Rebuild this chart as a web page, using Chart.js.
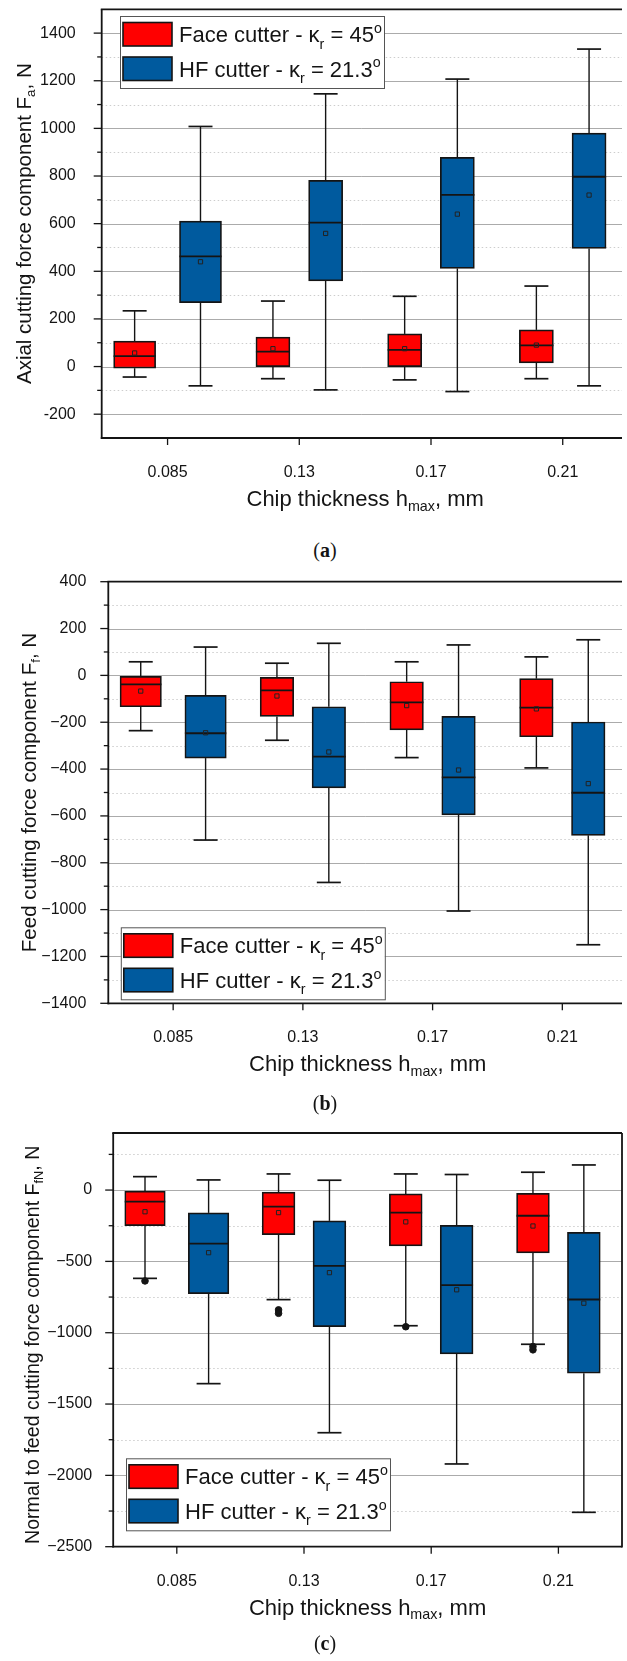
<!DOCTYPE html>
<html>
<head>
<meta charset="utf-8">
<script src="https://cdn.jsdelivr.net/npm/chart.js@4.4.1/dist/chart.umd.min.js"></script>
<style>
  html, body { margin: 0; padding: 0; background: #fff; overflow: hidden; }
  body { width: 627px; height: 1661px; position: relative; }
  .panel { position: absolute; left: 0; width: 627px; }
  .cap { position: absolute; left: 0; width: 650px; text-align: center; font: 20px "Liberation Serif", "DejaVu Serif", serif; color: #141414; line-height: 22px; }
</style>
</head>
<body>
<div class="panel" style="top:0;height:525px"><canvas id="chartAxial"></canvas></div>
<div class="cap" style="top:539px">(<b>a</b>)</div>
<div class="panel" style="top:570px;height:525px"><canvas id="chartFeed"></canvas></div>
<div class="cap" style="top:1092px">(<b>b</b>)</div>
<div class="panel" style="top:1120px;height:515px"><canvas id="chartNormal"></canvas></div>
<div class="cap" style="top:1632px">(<b>c</b>)</div>
<script>
const categories = ['0.085', '0.13', '0.17', '0.21'];

// each row: [min, Q1, median, Q3, max, mean]
const faceAxial = [
  [-44, -7, 44, 107, 234, 57],
  [-51, 0, 63, 124, 275, 75],
  [-56, 0, 70, 137, 295, 75],
  [-51, 15, 89, 154, 338, 90],
];
const hfAxial = [
  [-81, 268, 463, 611, 1008, 440],
  [-98, 360, 604, 782, 1145, 559],
  [-105, 412, 721, 878, 1207, 640],
  [-81, 496, 797, 980, 1333, 720],
];
const faceFeed = [
  [-236, -134, -38, -4, 58, -67],
  [-277, -175, -64, -8, 52, -88],
  [-351, -233, -115, -27, 58, -129],
  [-395, -262, -138, -14, 79, -143],
];
const hfFeed = [
  [-703, -353, -247, -85, 121, -245],
  [-884, -480, -347, -134, 137, -327],
  [-1006, -596, -435, -175, 130, -404],
  [-1150, -683, -501, -199, 152, -462],
];
const faceNormal = [
  [-619, -250, -81, -8, 94, -152],
  [-768, -312, -116, -15, 113, -158],
  [-951, -391, -158, -27, 113, -223],
  [-1081, -441, -180, -23, 125, -252],
];
const hfNormal = [
  [-1357, -726, -376, -160, 71, -439],
  [-1701, -958, -532, -216, 69, -579],
  [-1920, -1149, -666, -247, 109, -699],
  [-2259, -1284, -767, -296, 176, -793],
];
const faceNormalOutliers = [[-637], [-840, -864], [-958], [-1097, -1120]];

const axialTicks = [-200, 0, 200, 400, 600, 800, 1000, 1200, 1400];
const feedTicks = [-1400, -1200, -1000, -800, -600, -400, -200, 0, 200, 400];
const normalTicks = [-2500, -2000, -1500, -1000, -500, 0];

const RED = '#ff0000';
const BLUE = '#005a9e';
const INK = '#141414';
const FONT = '"Liberation Sans", Arial, sans-serif';

// box centre on the x axis: red left of the tick, blue right of it
function boxX(i, side) {
  return i + 1 + side * (i === 0 ? 0.25 : 0.2);
}

function fontFor(size) { return size + 'px ' + FONT; }

function richWidth(ctx, parts, size) {
  let w = 0;
  parts.forEach(p => {
    const sub = Array.isArray(p);
    ctx.font = fontFor(sub ? size * 0.65 : size);
    w += ctx.measureText(sub ? p[0] : p).width;
  });
  return w;
}

function drawRich(ctx, parts, x, y, size) {
  let cx = x;
  parts.forEach(p => {
    const sub = Array.isArray(p);
    const text = sub ? p[0] : p;
    let dy = 0;
    if (sub) dy = p[1] === 'sub' ? size * 0.3 : -size * 0.42;
    ctx.font = fontFor(sub ? size * 0.65 : size);
    ctx.fillText(text, cx, y + dy);
    cx += ctx.measureText(text).width;
  });
}

function hline(ctx, x1, x2, y) {
  ctx.beginPath(); ctx.moveTo(x1, y); ctx.lineTo(x2, y); ctx.stroke();
}
function vline(ctx, x, y1, y2) {
  ctx.beginPath(); ctx.moveTo(x, y1); ctx.lineTo(x, y2); ctx.stroke();
}

const boxPlot = {
  id: 'boxPlot',
  beforeDatasetsDraw(chart, args, o) {
    const { ctx, chartArea: a, scales: { x, y } } = chart;
    ctx.save();
    // grid
    ctx.lineWidth = 1;
    ctx.strokeStyle = '#ababab';
    o.ticks.forEach(v => {
      if (v <= o.yMin || v >= o.yMax) return;
      hline(ctx, a.left, a.right, Math.round(y.getPixelForValue(v)) + 0.5);
    });
    ctx.strokeStyle = '#cdcdcd';
    ctx.setLineDash([1.5, 2.5]);
    o.minors.forEach(v => hline(ctx, a.left, a.right, Math.round(y.getPixelForValue(v)) + 0.5));
    ctx.setLineDash([]);
    // whiskers
    ctx.strokeStyle = INK;
    [[o.face, -1], [o.hf, 1]].forEach(([rows, side]) => {
      rows.forEach((r, i) => {
        const px = x.getPixelForValue(boxX(i, side));
        ctx.lineWidth = 1.4;
        vline(ctx, px, y.getPixelForValue(r[0]), y.getPixelForValue(r[1]));
        vline(ctx, px, y.getPixelForValue(r[3]), y.getPixelForValue(r[4]));
        ctx.lineWidth = 1.7;
        hline(ctx, px - 12, px + 12, y.getPixelForValue(r[0]));
        hline(ctx, px - 12, px + 12, y.getPixelForValue(r[4]));
      });
    });
    ctx.restore();
  },
  afterDatasetDraw(chart, args) {
    const ds = chart.data.datasets[args.index];
    if (!ds.medians) return;
    const { ctx, scales: { y } } = chart;
    ctx.save();
    ctx.strokeStyle = INK;
    ctx.lineWidth = 1.8;
    args.meta.data.forEach((el, j) => {
      const { x: cx, width } = el.getProps(['x', 'width'], true);
      hline(ctx, cx - width / 2, cx + width / 2, y.getPixelForValue(ds.medians[j]));
    });
    ctx.restore();
  },
  afterDraw(chart, args, o) {
    const { ctx, chartArea: a, scales: { x, y } } = chart;
    ctx.save();
    ctx.strokeStyle = INK;
    // ticks
    ctx.lineWidth = 1.3;
    o.ticks.forEach(v => hline(ctx, a.left - 8, a.left, y.getPixelForValue(v)));
    o.minors.forEach(v => hline(ctx, a.left - 4.5, a.left, y.getPixelForValue(v)));
    categories.forEach((c, i) => vline(ctx, x.getPixelForValue(i + 1), a.bottom, a.bottom + 7));
    // frame
    ctx.lineWidth = 1.8;
    hline(ctx, a.left - 0.9, a.right, a.top);
    hline(ctx, a.left - 0.9, a.right, a.bottom);
    vline(ctx, a.left, a.top, a.bottom + 0.9);
    if (o.frameRight) vline(ctx, a.right, a.top, a.bottom + 0.9);

    // legend
    const L = o.legend;
    ctx.fillStyle = '#fff';
    ctx.fillRect(L.x, L.y, 264, 72);
    ctx.lineWidth = 1;
    ctx.strokeStyle = '#555';
    ctx.strokeRect(L.x + 0.5, L.y + 0.5, 264, 72);
    const rows = [
      [RED, ['Face cutter - \u03ba', ['r', 'sub'], ' = 45', ['o', 'sup']]],
      [BLUE, ['HF cutter - \u03ba', ['r', 'sub'], ' = 21.3', ['o', 'sup']]],
    ];
    rows.forEach(([color, parts], k) => {
      const sy = L.y + 6.5 + k * 34.5;
      ctx.fillStyle = color;
      ctx.fillRect(L.x + 3, sy, 49, 23.5);
      ctx.lineWidth = 1.6;
      ctx.strokeStyle = INK;
      ctx.strokeRect(L.x + 3, sy, 49, 23.5);
      ctx.fillStyle = INK;
      ctx.textBaseline = 'alphabetic';
      drawRich(ctx, parts, L.x + 59, sy + 19.5, 22);
    });

    // axis titles
    ctx.fillStyle = INK;
    ctx.textBaseline = 'middle';
    const xt = ['Chip thickness h', ['max', 'sub'], ', mm'];
    drawRich(ctx, xt, x.getPixelForValue(2.5) - richWidth(ctx, xt, 22) / 2, a.bottom + 62, 22);
    ctx.translate(o.titleX, (a.top + a.bottom) / 2 + o.titleDY);
    ctx.rotate(-Math.PI / 2);
    drawRich(ctx, o.yTitle, -richWidth(ctx, o.yTitle, o.titleSize) / 2, 0, o.titleSize);
    ctx.restore();
  },
};

function minorTicks(ticks, step, lo, hi) {
  const out = [];
  ticks.forEach(v => [v - step / 2, v + step / 2].forEach(m => {
    if (m > lo && m < hi && !out.includes(m)) out.push(m);
  }));
  return out;
}

function boxSet(label, rows, from, to, side, color, thickness) {
  const part = rows.slice(from, to);
  return {
    type: 'bar',
    label,
    data: part.map((r, k) => ({ x: boxX(from + k, side), y: [r[1], r[3]] })),
    medians: part.map(r => r[2]),
    backgroundColor: color,
    borderColor: INK,
    borderWidth: 1.7,
    borderSkipped: false,
    barThickness: thickness,
    stack: 'box',
    order: 2,
  };
}

function meanSet(rows, side) {
  return {
    type: 'scatter',
    data: rows.map((r, i) => ({ x: boxX(i, side), y: r[5] })),
    pointStyle: 'rect',
    pointRadius: 3,
    borderColor: '#222',
    borderWidth: 1,
    backgroundColor: 'rgba(0,0,0,0)',
    order: 1,
  };
}

function makeChart(p) {
  const unit = (p.right - p.left) / (p.xMax - 0.5);
  const wide = unit * 0.316;
  const narrow = unit * 0.256;
  const datasets = [
    boxSet('Face cutter', p.face, 0, 1, -1, RED, wide),
    boxSet('Face cutter', p.face, 1, 4, -1, RED, narrow),
    boxSet('HF cutter', p.hf, 0, 1, 1, BLUE, wide),
    boxSet('HF cutter', p.hf, 1, 4, 1, BLUE, narrow),
    meanSet(p.face, -1),
    meanSet(p.hf, 1),
  ];
  if (p.outliers) {
    const pts = [];
    p.outliers.forEach((vals, i) => vals.forEach(v => pts.push({ x: boxX(i, -1), y: v })));
    datasets.push({
      type: 'scatter', data: pts, pointStyle: 'circle', pointRadius: 3.3,
      backgroundColor: INK, borderColor: INK, borderWidth: 1, order: 1,
    });
  }
  const minors = minorTicks(p.ticks, p.step, p.yMin, p.yMax);
  return new Chart(document.getElementById(p.id), {
    type: 'bar',
    data: { datasets },
    plugins: [boxPlot],
    options: {
      responsive: true,
      maintainAspectRatio: false,
      animation: false,
      events: [],
      layout: { padding: { left: 0, right: 627 - p.right, top: p.top, bottom: 0 } },
      plugins: {
        legend: { display: false },
        tooltip: { enabled: false },
        boxPlot: {
          face: p.face, hf: p.hf, ticks: p.ticks, minors, yMin: p.yMin, yMax: p.yMax,
          legend: p.legend, yTitle: p.yTitle, titleX: p.titleX, titleDY: p.titleDY,
          titleSize: p.titleSize, frameRight: p.frameRight,
        },
      },
      scales: {
        x: {
          type: 'linear',
          offset: false,
          min: 0.5,
          max: p.xMax,
          afterBuildTicks: s => { s.ticks = categories.map((c, i) => ({ value: i + 1 })); },
          afterFit: s => { s.height = p.height - p.bottom; s.paddingLeft = 0; s.paddingRight = 0; },
          grid: { display: false },
          border: { display: false },
          ticks: {
            autoSkip: false, maxRotation: 0, padding: 17,
            color: INK, font: { family: FONT, size: 16 },
            callback: v => categories[v - 1],
          },
        },
        y: {
          type: 'linear',
          stacked: false,
          min: p.yMin,
          max: p.yMax,
          afterBuildTicks: s => { s.ticks = p.ticks.map(v => ({ value: v })); },
          afterFit: s => { s.width = p.left; s.paddingTop = 0; s.paddingBottom = 0; },
          grid: { display: false },
          border: { display: false },
          ticks: {
            padding: p.labelGap,
            color: INK, font: { family: FONT, size: 16 },
            callback: v => String(v).replace('-', p.minus),
          },
        },
      },
    },
  });
}

makeChart({
  id: 'chartAxial', face: faceAxial, hf: hfAxial, ticks: axialTicks, step: 200,
  yMin: -300, yMax: 1500, left: 101.7, right: 627, xMax: 4.45, top: 9.3, bottom: 438, height: 525,
  labelGap: 18, minus: '-', titleX: 25, titleDY: 0, titleSize: 20.5, frameRight: false,
  legend: { x: 120, y: 16 },
  yTitle: ['Axial cutting force component F', ['a', 'sub'], ', N'],
});
makeChart({
  id: 'chartFeed', face: faceFeed, hf: hfFeed, ticks: feedTicks, step: 200,
  yMin: -1400, yMax: 400, left: 108.3, right: 627, xMax: 4.46, top: 11.7, bottom: 433.3, height: 525,
  labelGap: 14, minus: '\u2212', titleX: 30, titleDY: 0, titleSize: 20.5, frameRight: false,
  legend: { x: 120.8, y: 357.3 },
  yTitle: ['Feed cutting force component F', ['f', 'sub'], ', N'],
});
makeChart({
  id: 'chartNormal', face: faceNormal, hf: hfNormal, outliers: faceNormalOutliers, ticks: normalTicks, step: 500,
  yMin: -2500, yMax: 400, left: 113.2, right: 626, xMax: 4.5, top: 13, bottom: 426.7, height: 515,
  labelGap: 13, minus: '\u2212', titleX: 34, titleDY: 5, titleSize: 19.6, frameRight: true,
  legend: { x: 126, y: 338.3 },
  yTitle: ['Normal to feed cutting force component F', ['fN', 'sub'], ', N'],
});
</script>
</body>
</html>
